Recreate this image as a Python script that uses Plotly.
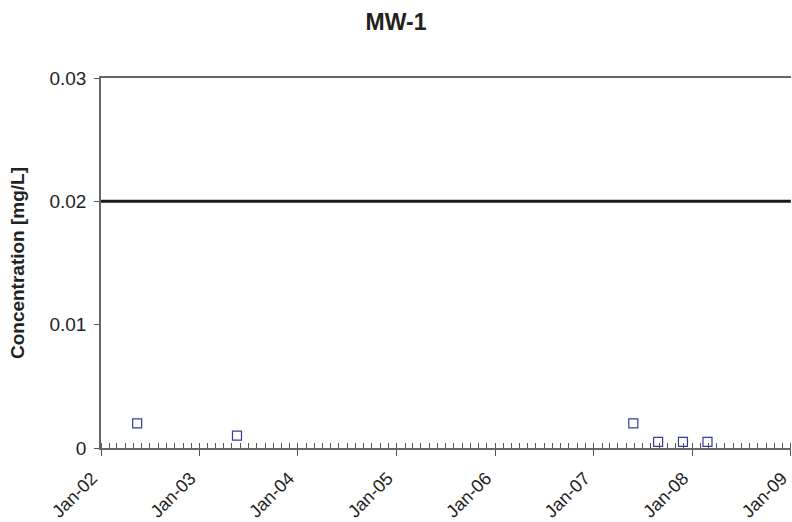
import plotly.graph_objects as go

dates = ["2002-05-15", "2003-05-20", "2007-05-28", "2007-08-28", "2007-11-28", "2008-02-27"]
conc = [0.002, 0.001, 0.002, 0.0005, 0.0005, 0.0005]
limit_x = ["2002-01-01", "2009-01-01"]
limit_y = [0.02, 0.02]
y_ticks = [0, 0.01, 0.02, 0.03]
y_tick_text = ["0", "0.01", "0.02", "0.03"]

FONT = "Liberation Sans, Arial, sans-serif"

fig = go.Figure()
fig.add_trace(go.Scatter(x=limit_x, y=limit_y, mode="lines",
                         line=dict(color="#1a1a1a", width=3), showlegend=False,
                         hoverinfo="skip"))
fig.add_trace(go.Scatter(x=dates, y=conc, mode="markers",
                         marker=dict(symbol="square-open", size=9,
                                     color="#3a3a9c", line=dict(width=1.2)),
                         showlegend=False))

fig.update_layout(
    width=792, height=522,
    margin=dict(l=101, r=1, t=78, b=74),
    paper_bgcolor="white", plot_bgcolor="white",
    font=dict(family=FONT, color="#222222", size=16),
    title=dict(text="<b>MW-1</b>", x=0.5, xanchor="center", y=0.958, yanchor="middle",
               font=dict(family=FONT, size=23, color="#222222")),
    xaxis=dict(
        range=["2002-01-01", "2009-01-01 12:00"],
        tickmode="linear", tick0="2002-01-01", dtick="M12",
        tickformat="%b-%y", tickangle=-45,
        ticks="outside", ticklen=6, tickcolor="#555555", tickwidth=1,
        showline=True, linecolor="#666666", linewidth=1.5, mirror=True,
        showgrid=False, zeroline=False, automargin=False,
        ticklabeloverflow="allow",
        ticklabelstandoff=5, ticklabelshift=-9,
        tickfont=dict(family=FONT, size=18, color="#222222"),
        minor=dict(dtick="M1", tick0="2002-01-01", ticks="inside", ticklen=5,
                   tickcolor="#555555", tickwidth=1, showgrid=False),
    ),
    yaxis=dict(
        range=[0, 0.03], tickvals=y_ticks, ticktext=y_tick_text,
        ticks="outside", ticklen=5, tickcolor="#555555",
        showline=True, linecolor="#666666", linewidth=1.5,
        showgrid=False, zeroline=False, automargin=False,
        ticklabelstandoff=4,
        tickfont=dict(family=FONT, size=19, color="#222222"),
        title=dict(text="<b>Concentration [mg/L]</b>", standoff=20,
                   font=dict(family=FONT, size=19, color="#222222")),
    ),
)

fig.write_html("out.html")
